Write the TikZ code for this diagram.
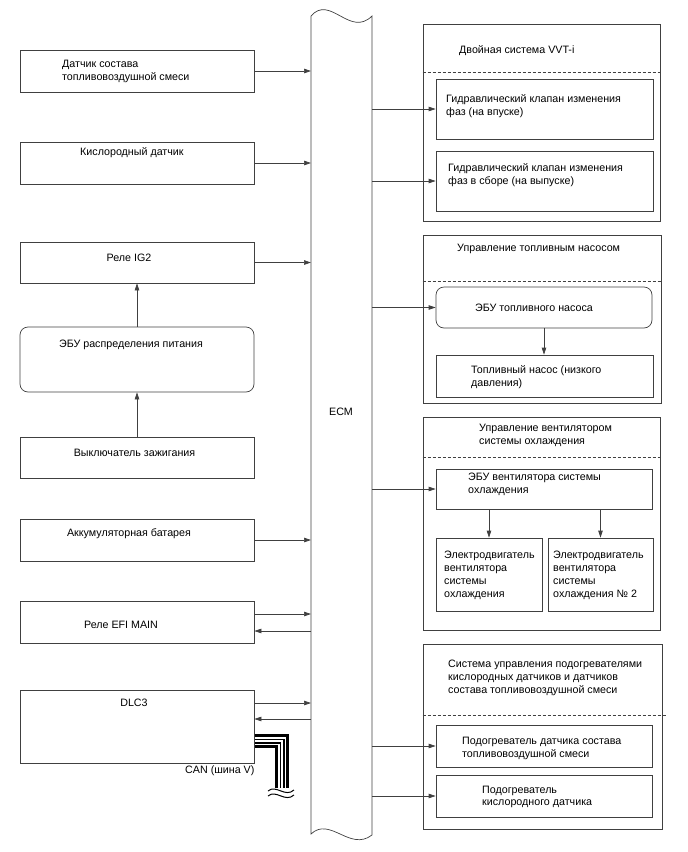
\documentclass[tikz,border=0pt]{standalone}
\usepackage{fontspec}
\setmainfont{Liberation Sans}
\usetikzlibrary{arrows.meta,fit}
\begin{document}
\begin{tikzpicture}[x=1pt,y=-1pt,
  ln/.style={draw=black!75, line width=0.7pt},
  box/.style={ln, inner sep=0pt, rectangle},
  rbox/.style={box, rounded corners=8pt},
  arr/.style={ln, -{Triangle[length=7pt,width=4.5pt]}},
  lbl/.style={inner sep=0pt, align=left, anchor=west, font=\fontsize{10.7}{12.8}\selectfont},
  clbl/.style={lbl, anchor=center, align=center},
  dsh/.style={ln, dash pattern=on 3pt off 2pt}
]
\useasboundingbox (0,0) rectangle (688,852);
% ECM
\draw[ln] (311,16) .. controls (330,-6) and (350,38) .. (372,16) -- (372,835)
  .. controls (350,852) and (330,816) .. (311,834) -- cycle;
\coordinate (ecmL) at (311,0);
\coordinate (ecmR) at (372,0);
\node[clbl] (ecm) at (341,412) {ECM};

% left boxes
\node[box, fit={(20,50)(254,92)}] (L1) {};
\node[box, fit={(20,142)(254,184)}] (L2) {};
\node[box, fit={(20,242)(254,283)}] (L3) {};
\node[rbox, fit={(20,327)(254,392)}] (L4) {};
\node[box, fit={(20,437)(254,478)}] (L5) {};
\node[box, fit={(20,519)(254,561)}] (L6) {};
\node[box, fit={(20,601)(254,643)}] (L7) {};
\node[box, fit={(20,690)(254,763)}] (L8) {};

\node[lbl] (t1) at (62,71.5) {Датчик состава\\топливовоздушной смеси};
\node[lbl] (t2) at (80,153) {Кислородный датчик};
\node[clbl] (t3) at (129,258) {Реле IG2};
\node[clbl] (t4) at (131,345) {ЭБУ распределения питания};
\node[clbl] (t5) at (134.5,453) {Выключатель зажигания};
\node[clbl] (t6) at (129,534) {Аккумуляторная батарея};
\node[clbl] (t7) at (121,625) {Реле EFI MAIN};
\node[clbl] (t8) at (134,703) {DLC3};
\node[lbl] (tcan) at (185,771) {CAN (шина V)};

% left arrows
\draw[arr] (L1.east) -- (L1.east -| ecmL);
\draw[arr] (L2.east) -- (L2.east -| ecmL);
\draw[arr] (L3.east) -- (L3.east -| ecmL);
\draw[arr] (L6.east) -- (L6.east -| ecmL);
\draw[arr] ([yshift=8pt]L7.east) -- ([yshift=8pt]L7.east -| ecmL);
\draw[arr] ([yshift=-9pt]L7.east -| ecmL) -- ([yshift=-9pt]L7.east);
\draw[arr] ([yshift=23.5pt]L8.east) -- ([yshift=23.5pt]L8.east -| ecmL);
\draw[arr] ([yshift=7.5pt]L8.east -| ecmL) -- ([yshift=7.5pt]L8.east);
\draw[arr] (L4.north) -- (L3.south);
\draw[arr] (L5.north) -- (L4.south);

% CAN cable
\coordinate (cs) at ([yshift=-14.5pt, xshift=0.4pt]L8.east);
\coordinate (cb) at (282,741);
\coordinate (ce) at (282,788);
\foreach \w/\c in {14/black,7.5/white,5/black,2.5/white}
  \draw[line width=\w pt, draw=\c, line join=miter] (cs) -- (cb) -- (ce);
\draw[line width=1pt] (268,791) .. controls (276,784) and (285,798) .. (294,790);
\draw[line width=1pt] (268,796) .. controls (276,789) and (285,803) .. (294,795);

% right group 1
\node[box, fit={(423,24)(660,221)}] (G1) {};
\draw[dsh] (G1.west |- 0,72) -- (G1.east |- 0,72);
\node[lbl] (g1t) at (459,51) {Двойная система VVT-i};
\node[box, fit={(436,79)(653,139)}] (R1a) {};
\node[box, fit={(436,151)(653,211)}] (R1b) {};
\node[lbl] (r1at) at (446,106) {Гидравлический клапан изменения\\фаз (на впуске)};
\node[lbl] (r1bt) at (448,175) {Гидравлический клапан изменения\\фаз в сборе (на выпуске)};
\draw[arr] (ecmR |- R1a.west) -- (R1a.west);
\draw[arr] (ecmR |- R1b.west) -- (R1b.west);

% right group 2
\node[box, fit={(423,235)(661,403)}] (G2) {};
\draw[dsh] (G2.west |- 0,281) -- (G2.east |- 0,281);
\node[lbl] (g2t) at (457,249) {Управление топливным насосом};
\node[rbox, fit={(436,287)(652,328)}] (R2a) {};
\node[box, fit={(436,355)(653,397)}] (R2b) {};
\node[lbl] (r2at) at (475,308) {ЭБУ топливного насоса};
\node[lbl] (r2bt) at (471,377) {Топливный насос (низкого\\давления)};
\draw[arr] (ecmR |- R2a.west) -- (R2a.west);
\draw[arr] (R2a.south) -- (R2a.south |- R2b.north);

% right group 3
\node[box, fit={(423,417)(660,630)}] (G3) {};
\draw[dsh] (G3.west |- 0,457) -- (G3.east |- 0,457);
\node[lbl] (g3t) at (479,435) {Управление вентилятором\\системы охлаждения};
\node[box, fit={(436,469)(652,509)}] (R3a) {};
\node[box, fit={(436,538)(542,611)}] (R3b) {};
\node[box, fit={(548,538)(653,611)}] (R3c) {};
\node[lbl] (r3at) at (468,484.5) {ЭБУ вентилятора системы\\охлаждения};
\node[lbl] (r3bt) at (444,575.5) {Электродвигатель\\вентилятора\\системы\\охлаждения};
\node[lbl] (r3ct) at (553,575.5) {Электродвигатель\\вентилятора\\системы\\охлаждения № 2};
\draw[arr] (ecmR |- R3a.west) -- (R3a.west);
\draw[arr] (R3a.south -| R3b.north) -- (R3b.north);
\draw[arr] (R3a.south -| R3c.north) -- (R3c.north);

% right group 4
\node[box, fit={(423,644)(662,829)}] (G4) {};
\draw[dsh] (G4.west |- 0,715) -- (667,715);
\node[lbl] (g4t) at (448,678) {Система управления подогревателями\\кислородных датчиков и датчиков\\состава топливовоздушной смеси};
\node[box, fit={(436,725)(652,767)}] (R4a) {};
\node[box, fit={(436,775)(652,817)}] (R4b) {};
\node[lbl] (r4at) at (462,748.5) {Подогреватель датчика состава\\топливовоздушной смеси};
\node[lbl] (r4bt) at (482,797) {Подогреватель\\кислородного датчика};
\draw[arr] (ecmR |- R4a.west) -- (R4a.west);
\draw[arr] (ecmR |- R4b.west) -- (R4b.west);
\end{tikzpicture}
\end{document}
